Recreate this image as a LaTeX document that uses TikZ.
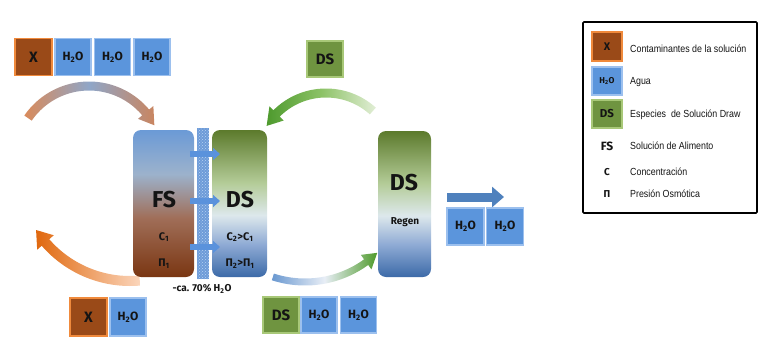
\documentclass[tikz,border=0pt]{standalone}
\usepackage{fontspec}
\setmainfont{Fira Sans}
\newfontfamily\legfont[FakeStretch=0.86]{Liberation Sans}
\usetikzlibrary{calc,arrows.meta,patterns}
\definecolor{txt}{HTML}{141414}
\definecolor{xfill}{HTML}{9A4A18}
\definecolor{xborder}{HTML}{F08A3C}
\definecolor{wfill}{HTML}{5B95DC}
\definecolor{wborder}{HTML}{9CC0EE}
\definecolor{gfill}{HTML}{6F9440}
\definecolor{gborder}{HTML}{A8C878}
\definecolor{fstop}{HTML}{6B9AD6}
\definecolor{fsup}{HTML}{9CB2CC}
\definecolor{fsmid}{HTML}{A06E58}
\definecolor{fsbot}{HTML}{7A3612}
\definecolor{dstop}{HTML}{5C7A2C}
\definecolor{dsup}{HTML}{B4CC98}
\definecolor{dsmid}{HTML}{DDE8EC}
\definecolor{dslow}{HTML}{8EAAD4}
\definecolor{dsbot}{HTML}{3C6AA8}
\definecolor{membr}{HTML}{6D9BD8}
\definecolor{membdot}{HTML}{B8D4F4}
\definecolor{smarrow}{HTML}{5A92DC}
\definecolor{bigarrow}{HTML}{4F81BD}
\definecolor{tlorange}{HTML}{D98A5A}
\definecolor{tlblue}{HTML}{8FA6C8}
\definecolor{tlorange2}{HTML}{C98560}
\definecolor{gdark}{HTML}{4E9A2E}
\definecolor{gmid}{HTML}{8CC266}
\definecolor{glight}{HTML}{E2EED6}
\definecolor{odark}{HTML}{E0680E}
\definecolor{olight}{HTML}{FBD6BC}
\definecolor{bblue}{HTML}{6A98D0}
\definecolor{bwhite}{HTML}{E8EEF6}
\definecolor{bgreen}{HTML}{4E9A2A}
\pgfdeclareverticalshading{fsshade}{100bp}{color(0bp)=(fsbot); color(25bp)=(fsbot); color(45bp)=(fsmid); color(60bp)=(fsup); color(75bp)=(fstop); color(100bp)=(fstop)}
\pgfdeclareverticalshading{dsshade}{100bp}{color(0bp)=(dsbot); color(25bp)=(dsbot); color(36bp)=(dslow); color(46bp)=(dsmid); color(57bp)=(dsup); color(75bp)=(dstop); color(100bp)=(dstop)}
\newcommand{\water}{H\textsubscript{2}O}
% curved thick arrow: cx, cy, R, start angle, head-base angle, tip angle, half width, head half width, options
\newcommand{\curvarrow}[9]{%
  \path[#9] ($(#1,#2)+(#4:#3+#7)$) arc[start angle=#4, end angle=#5, radius=#3+#7]
    -- ($(#1,#2)+(#5:#3+#8)$) -- ($(#1,#2)+(#6:#3)$) -- ($(#1,#2)+(#5:#3-#8)$)
    -- ($(#1,#2)+(#5:#3-#7)$) arc[start angle=#5, end angle=#4, radius=#3-#7] -- cycle;}
\begin{document}
\begin{tikzpicture}[x=1pt,y=1pt,
  sqb/.style={draw, line width=1.4pt, inner sep=0pt, font=\bfseries, text=txt},
  xbox/.style={sqb, fill=xfill, draw=xborder},
  wbox/.style={sqb, fill=wfill, draw=wborder},
  gbox/.style={sqb, fill=gfill, draw=gborder},
  big/.style={font=\bfseries\fontsize{23}{23}\selectfont, text=txt, inner sep=0pt},
  small/.style={font=\bfseries\fontsize{11}{11}\selectfont, text=txt, inner sep=0pt},
  wtxt/.style={font=\bfseries\fontsize{12}{12}\selectfont},
  gtxt/.style={font=\bfseries\fontsize{15}{15}\selectfont},
  leg/.style={anchor=west, font=\legfont\fontsize{10.3}{10.3}\selectfont, text=txt, inner sep=0pt},
  smarr/.style={-{Triangle[width=12pt,length=7pt]}, line width=5.5pt, draw=smarrow},
]
\useasboundingbox (0,0) rectangle (768,-348);

% curved arrows
\curvarrow{89}{-160}{74}{145.5}{40}{28}{4.5}{10}{left color=tlorange, right color=tlorange2, middle color=tlblue}
\curvarrow{326}{-163}{70}{48}{135}{148}{4.5}{10}{left color=gdark, right color=glight, middle color=gmid}
\curvarrow{130}{-169}{112}{-85}{-139}{-147}{5}{11}{left color=odark, right color=olight}
\curvarrow{305}{-178}{104}{-108}{-54}{-46}{3.5}{9}{left color=bblue, right color=bgreen, middle color=bwhite}

% main boxes
\path[shading=fsshade, rounded corners=8pt] (133,-130) rectangle (194,-277);
\path[shading=dsshade, rounded corners=8pt] (212,-130) rectangle (267,-277);
\path[shading=dsshade, rounded corners=8pt] (378,-131) rectangle (431,-277);

% membrane
\fill[membr] (197,-128) rectangle (209,-279);
\fill[pattern=crosshatch dots, pattern color=membdot] (197,-128) rectangle (209,-279);

% arrows across membrane
\coordinate (a1s) at (190,-154); \coordinate (a1e) at (220,-154);
\coordinate (a2s) at (190,-201); \coordinate (a2e) at (220,-201);
\coordinate (a3s) at (190,-247); \coordinate (a3e) at (220,-247);
\draw[smarr] (a1s) -- (a1e);
\draw[smarr] (a2s) -- (a2e);
\draw[smarr] (a3s) -- (a3e);

% box texts
\node[big] (fs) at (164,-200) {FS};
\node[small] (c1) at (164,-237) {C\textsubscript{1}};
\node[small] (p1) at (164,-264) {Π\textsubscript{1}};
\node[big] (ds) at (240,-200) {DS};
\node[small] (c2) at (240,-237) {C\textsubscript{2}>C\textsubscript{1}};
\node[small] (p2) at (240,-264) {Π\textsubscript{2}>Π\textsubscript{1}};
\node[big] (dsr) at (404,-183) {DS};
\node[small, font=\bfseries\fontsize{10}{10}\selectfont] (regen) at (405,-222) {Regen};
\node[small, font=\bfseries\fontsize{10}{10}\selectfont] (ca) at (202,-289) {-ca. 70\% \water};

% top-left boxes
\node[xbox, minimum width=37pt, minimum height=37pt, gtxt] (tx) at (33.5,-57) {X};
\node[wbox, minimum width=36pt, minimum height=37pt, wtxt] (tw1) at (73,-57) {\water};
\node[wbox, minimum width=36pt, minimum height=37pt, wtxt] (tw2) at (112.5,-57) {\water};
\node[wbox, minimum width=36pt, minimum height=37pt, wtxt] (tw3) at (152,-57) {\water};

% top-middle DS
\node[gbox, minimum width=36pt, minimum height=36pt, gtxt] (tds) at (325,-59) {DS};

% bottom-left boxes
\node[xbox, minimum width=37pt, minimum height=38pt, gtxt] (bx) at (88.5,-317) {X};
\node[wbox, minimum width=36pt, minimum height=38pt, wtxt] (bw) at (128,-317) {\water};

% bottom-middle boxes
\node[gbox, minimum width=36pt, minimum height=36pt, gtxt] (bds) at (281,-315) {DS};
\node[wbox, minimum width=36pt, minimum height=36pt, wtxt] (bw1) at (319,-315) {\water};
\node[wbox, minimum width=36pt, minimum height=36pt, wtxt] (bw2) at (358.5,-315) {\water};

% right arrow and boxes
\coordinate (ras) at (447,-197); \coordinate (rae) at (504,-197);
\draw[-{Triangle[width=20pt,length=12pt]}, line width=9pt, draw=bigarrow] (ras) -- (rae);
\node[wbox, minimum width=37pt, minimum height=37pt, wtxt] (rw1) at (465.5,-226.5) {\water};
\node[wbox, minimum width=37pt, minimum height=37pt, wtxt] (rw2) at (505,-226.5) {\water};

% legend
\draw[line width=1.6pt, rounded corners=1pt] (583,-22) rectangle (757,-213);
\node[xbox, minimum width=30pt, minimum height=29pt, font=\bfseries\fontsize{11}{11}\selectfont] (lx) at (607,-46.5) {X};
\node[wbox, minimum width=30pt, minimum height=28pt, font=\bfseries\fontsize{8.5}{8.5}\selectfont] (lw) at (607,-81) {\water};
\node[gbox, minimum width=30pt, minimum height=28pt, font=\bfseries\fontsize{11.5}{11.5}\selectfont] (lg) at (607,-114) {DS};
\node[small, font=\bfseries\fontsize{12}{12}\selectfont] (lfs) at (607,-146) {FS};
\node[small, font=\bfseries\fontsize{10}{10}\selectfont] (lc) at (607,-172) {C};
\node[small, font=\bfseries\fontsize{10}{10}\selectfont] (lp) at (607,-194) {Π};
\node[leg] (t1) at (630,-49) {Contaminantes de la solución};
\node[leg] (t2) at (630,-82) {Agua};
\node[leg] (t3) at (630,-115) {Especies \ de Solución Draw};
\node[leg] (t4) at (630,-146) {Solución de Alimento};
\node[leg] (t5) at (630,-172) {Concentración};
\node[leg] (t6) at (630,-194) {Presión Osmótica};
\end{tikzpicture}
\end{document}
